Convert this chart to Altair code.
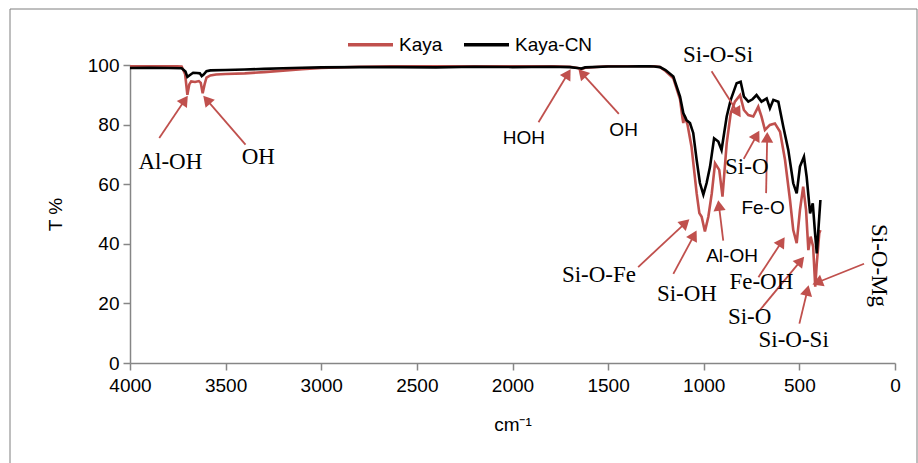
import math
import altair as alt
import pandas as pd

# ---- FTIR transmittance spectra (wavenumber in cm-1, transmittance in %) ----
wn_kaya = [4000, 3900, 3800, 3730, 3712, 3700, 3690, 3680, 3660, 3640, 3630, 3620,
           3610, 3600, 3580, 3550, 3500, 3400, 3300, 3200, 3100, 3000, 2800, 2600,
           2400, 2200, 2000, 1800, 1700, 1660, 1640, 1620, 1500, 1400, 1300, 1260,
           1229, 1200, 1159, 1124, 1112, 1107, 1100, 1085, 1064, 1037, 1023, 1011,
           994, 976, 958, 941, 919, 902, 880, 859, 837, 810, 790, 767, 741, 715,
           698, 680, 654, 628, 601, 575, 549, 532, 514, 497, 480, 465, 453, 441,
           428, 417, 409, 396, 390]
t_kaya = [99.8, 99.8, 99.7, 99.5, 97.0, 90.0, 93.5, 94.5, 94.3, 94.6, 94.0, 90.5,
          93.5, 95.8, 96.5, 96.8, 97.0, 97.2, 97.6, 98.1, 98.6, 99.0, 99.4, 99.6,
          99.7, 99.7, 99.6, 99.6, 99.4, 99.0, 98.6, 99.1, 99.6, 99.7, 99.7, 99.6,
          99.3, 98.0, 95.5, 88.5, 82.5, 80.5, 83.0, 80.0, 72.6, 56.9, 50.3, 49.1,
          44.1, 49.1, 56.9, 67.0, 64.8, 55.8, 73.7, 83.8, 87.7, 89.9, 84.9, 83.2,
          82.7, 86.0, 82.7, 78.2, 79.9, 80.4, 77.6, 68.1, 54.7, 44.6, 40.2, 51.3,
          59.2, 51.3, 37.9, 42.4, 39.0, 25.6, 33.4, 43.5, 44.6]

wn_cn = [4000, 3900, 3800, 3730, 3710, 3700, 3690, 3670, 3650, 3635, 3625, 3615,
         3600, 3580, 3500, 3400, 3300, 3200, 3100, 3000, 2800, 2600, 2400, 2200,
         2000, 1800, 1700, 1660, 1640, 1620, 1500, 1400, 1300, 1260, 1229, 1200,
         1159, 1124, 1107, 1090, 1072, 1055, 1037, 1020, 1002, 985, 967, 946, 924,
         907, 880, 859, 828, 807, 790, 767, 745, 724, 698, 671, 654, 636, 610, 584,
         558, 532, 514, 497, 476, 462, 444, 430, 418, 409, 396, 390]
t_cn = [99.0, 99.1, 99.0, 98.9, 97.8, 96.0, 96.5, 97.4, 97.3, 97.2, 96.3, 96.8,
        97.9, 98.2, 98.3, 98.5, 98.7, 98.9, 99.1, 99.2, 99.3, 99.3, 99.2, 99.4,
        99.3, 99.4, 99.3, 99.0, 98.8, 99.2, 99.5, 99.5, 99.6, 99.5, 99.3, 98.3,
        96.1, 89.4, 83.9, 81.5, 80.5, 77.2, 68.1, 60.4, 56.5, 60.4, 65.9, 75.4, 74.3,
        71.5, 82.7, 88.3, 93.9, 94.4, 89.4, 87.7, 88.5, 89.9, 87.7, 88.8, 85.5,
        88.3, 87.7, 79.3, 71.5, 60.3, 56.9, 65.9, 69.2, 62.5, 50.2, 53.6, 43.5,
        36.8, 49.1, 54.7]

# ---- band assignments: label text and its centre (wavenumber, T %) ----
serif_labels = ["Al-OH", "OH", "Si-O-Si", "Si-O", "Si-O-Fe", "Si-OH", "Fe-OH",
                "Si-O", "Si-O-Si"]
serif_wn = [3789, 3329, 925, 775, 1548, 1088, 699, 760, 530]
serif_t = [67.4, 69.0, 103.4, 65.7, 29.4, 23.2, 27.2, 15.6, 7.8]

sans_labels = ["HOH", "OH", "Al-OH", "Fe-O"]
sans_wn = [1940, 1419, 852, 690]
sans_t = [75.5, 78.2, 35.8, 52.0]

# vertical label on the far right
rot_label = ["Si-O-Mg"]
rot_wn = [86]
rot_t = [32.7]

# arrows: tail (near the label) -> head (on the band)
arrow_tail_wn = [3847, 3396, 1864, 1444, 959, 791, 674, 1343, 1159, 898, 714, 706, 500, 162]
arrow_tail_t = [75.5, 73.3, 80.8, 83.6, 97.9, 68.5, 57.0, 32.2, 29.9, 41.1, 28.8, 17.8, 13.2, 33.3]
arrow_head_wn = [3703, 3611, 1701, 1649, 812, 714, 668, 1082, 1042, 923, 582, 481, 454, 423]
arrow_head_t = [89.2, 89.2, 98.1, 98.1, 83.0, 77.4, 76.9, 47.8, 43.9, 54.0, 41.7, 35.2, 25.5, 26.6]

x_ticks = [4000, 3500, 3000, 2500, 2000, 1500, 1000, 500, 0]
y_ticks = [0, 20, 40, 60, 80, 100]

RED = "#C0504D"
PLOT_W, PLOT_H = 765, 298
X_MAX, Y_MAX = 4000, 100
SANS = "Liberation Sans"
SERIF = "Liberation Serif"

spectra = pd.concat([
    pd.DataFrame({"wn": wn_kaya, "t": t_kaya, "series": "Kaya"}),
    pd.DataFrame({"wn": wn_cn, "t": t_cn, "series": "Kaya-CN"}),
])

# arrow shafts end at the centre of a rotated triangle whose tip sits on the head
HEAD = 150
tri_h = math.sqrt(HEAD) / 2 * math.sqrt(3) / 2
rows = []
for tw, tt, hw, ht in zip(arrow_tail_wn, arrow_tail_t, arrow_head_wn, arrow_head_t):
    x0, y0 = (X_MAX - tw) * PLOT_W / X_MAX, (Y_MAX - tt) * PLOT_H / Y_MAX
    x1, y1 = (X_MAX - hw) * PLOT_W / X_MAX, (Y_MAX - ht) * PLOT_H / Y_MAX
    dx, dy = x1 - x0, y1 - y0
    n = math.hypot(dx, dy)
    ux, uy = dx / n, dy / n
    cx, cy = x1 - ux * tri_h, y1 - uy * tri_h
    rows.append({
        "tw": tw, "tt": tt,
        "cw": X_MAX - cx * X_MAX / PLOT_W,
        "ct": Y_MAX - cy * Y_MAX / PLOT_H,
        "ang": math.degrees(math.atan2(ux, -uy)) % 360,
    })
arrows = pd.DataFrame(rows)

x_scale = alt.Scale(domain=[0, X_MAX], reverse=True, nice=False, zero=False)
y_scale = alt.Scale(domain=[0, Y_MAX], nice=False)

x_axis = alt.Axis(values=x_ticks, format="d", title="cm⁻¹", grid=False,
                  labelFont=SANS, labelFontSize=19, labelColor="black", labelPadding=6,
                  titleFont=SANS, titleFontSize=19, titleFontWeight="normal",
                  titleColor="black", titlePadding=20, tickSize=7,
                  labelFlush=False, labelOverlap=False)
y_axis = alt.Axis(values=y_ticks, format="d", title="T %", grid=False,
                  labelFont=SANS, labelFontSize=19, labelColor="black", labelPadding=4,
                  titleFont=SANS, titleFontSize=19, titleFontWeight="normal",
                  titleColor="black", titlePadding=22, tickSize=7)

lines = alt.Chart(spectra).mark_line(strokeWidth=2.6, clip=True).encode(
    x=alt.X("wn:Q", scale=x_scale, axis=x_axis),
    y=alt.Y("t:Q", scale=y_scale, axis=y_axis),
    color=alt.Color(
        "series:N",
        scale=alt.Scale(domain=["Kaya", "Kaya-CN"], range=[RED, "black"]),
        legend=alt.Legend(
            title=None, orient="none", direction="horizontal",
            legendX=216, legendY=-45, symbolType="stroke", symbolSize=2025,
            symbolStrokeWidth=3.5, labelFont=SANS, labelFontSize=19,
            labelColor="black", labelOffset=4, columnPadding=14,
        ),
    ),
    order=alt.Order("wn:Q"),
)

shafts = alt.Chart(arrows).mark_rule(color=RED, strokeWidth=1.8).encode(
    x=alt.X("tw:Q", scale=x_scale), y=alt.Y("tt:Q", scale=y_scale),
    x2="cw:Q", y2="ct:Q",
)
heads = alt.Chart(arrows).mark_point(
    shape="triangle", filled=True, size=HEAD, color=RED, opacity=1
).encode(
    x=alt.X("cw:Q", scale=x_scale), y=alt.Y("ct:Q", scale=y_scale),
    angle=alt.Angle("ang:Q", scale=None),
)

serif_text = alt.Chart(pd.DataFrame({"w": serif_wn, "t": serif_t, "label": serif_labels})).mark_text(
    font=SERIF, fontSize=23, color="black", baseline="middle", align="center"
).encode(x=alt.X("w:Q", scale=x_scale), y=alt.Y("t:Q", scale=y_scale), text="label:N")

sans_text = alt.Chart(pd.DataFrame({"w": sans_wn, "t": sans_t, "label": sans_labels})).mark_text(
    font=SANS, fontSize=19, color="black", baseline="middle", align="center"
).encode(x=alt.X("w:Q", scale=x_scale), y=alt.Y("t:Q", scale=y_scale), text="label:N")

rot_text = alt.Chart(pd.DataFrame({"w": rot_wn, "t": rot_t, "label": rot_label})).mark_text(
    font=SERIF, fontSize=23, color="black", baseline="middle", align="center", angle=90
).encode(x=alt.X("w:Q", scale=x_scale), y=alt.Y("t:Q", scale=y_scale), text="label:N")

# thin frame around the whole figure
frame = alt.Chart(pd.DataFrame({"k": [0]})).mark_rect(
    fill=None, stroke="#7f7f7f", strokeWidth=1, clip=False
).encode(
    x=alt.value(-120), x2=alt.value(787), y=alt.value(-56), y2=alt.value(420),
)

chart = alt.layer(frame, lines, shafts, heads, serif_text, sans_text, rot_text).properties(
    width=PLOT_W, height=PLOT_H,
    autosize=alt.AutoSizeParams(type="none"),
    padding={"left": 130, "top": 65, "right": 23, "bottom": 100},
    background="white",
).configure_view(stroke=None).configure_axis(
    domainColor="#868686", tickColor="#868686", domainWidth=1.5, tickWidth=1.5,
)

chart.save("out.html", embed_options={"renderer": "svg", "actions": False})
